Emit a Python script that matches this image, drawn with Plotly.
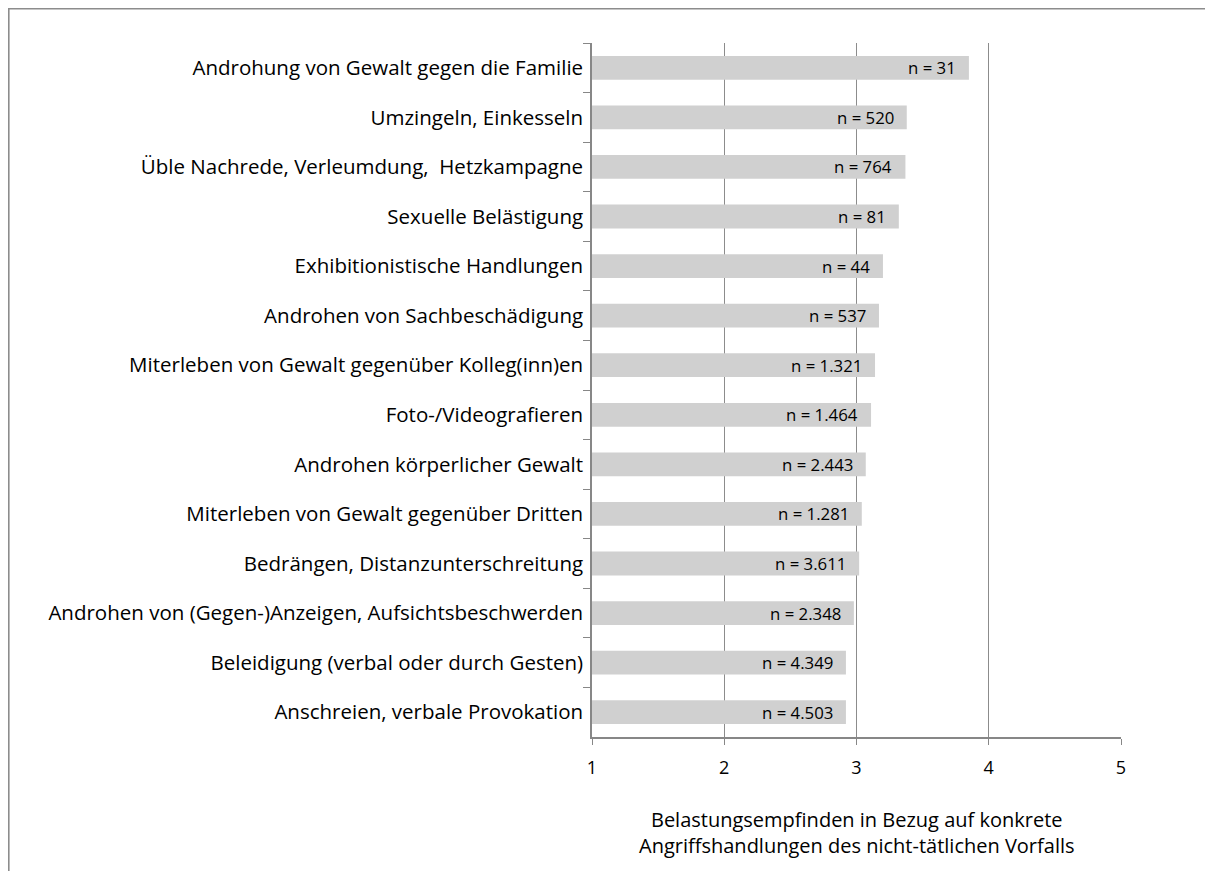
import plotly.graph_objects as go

categories = [
    "Androhung von Gewalt gegen die Familie",
    "Umzingeln, Einkesseln",
    "Üble Nachrede, Verleumdung,  Hetzkampagne",
    "Sexuelle Belästigung",
    "Exhibitionistische Handlungen",
    "Androhen von Sachbeschädigung",
    "Miterleben von Gewalt gegenüber Kolleg(inn)en",
    "Foto-/Videografieren",
    "Androhen körperlicher Gewalt",
    "Miterleben von Gewalt gegenüber Dritten",
    "Bedrängen, Distanzunterschreitung",
    "Androhen von (Gegen-)Anzeigen, Aufsichtsbeschwerden",
    "Beleidigung (verbal oder durch Gesten)",
    "Anschreien, verbale Provokation",
]
values = [3.85, 3.38, 3.37, 3.32, 3.20, 3.17, 3.14, 3.11, 3.07, 3.04, 3.02, 2.98, 2.92, 2.92]
n_labels = ["n = 31", "n = 520", "n = 764", "n = 81", "n = 44", "n = 537", "n = 1.321",
            "n = 1.464", "n = 2.443", "n = 1.281", "n = 3.611", "n = 2.348", "n = 4.349", "n = 4.503"]
x_ticks = [1, 2, 3, 4, 5]
axis_title = "Belastungsempfinden in Bezug auf konkrete<br>Angriffshandlungen des nicht-tätlichen Vorfalls"

FONT = "Open Sans"
base = 1

fig = go.Figure()
fig.add_trace(go.Bar(
    y=categories,
    x=[v - base for v in values],
    base=base,
    orientation="h",
    marker=dict(color="#d0d0d0", line=dict(width=0)),
    hoverinfo="skip",
))

for cat, v, lab in zip(categories, values, n_labels):
    fig.add_annotation(x=v, y=cat, text=lab, showarrow=False, xanchor="right",
                       xshift=-11, font=dict(family=FONT, size=16.8, color="#000000"))

# figure coordinates (page offset of 8px from body margin)
FW, FH = 1205, 863
L, R, T, B = 584, 1113, 35, 729
W, H = R - L, B - T

fig.add_annotation(x=0.5, y=(B - 796) / H, xref="paper", yref="paper", text=axis_title,
                   showarrow=False, xanchor="center", yanchor="top",
                   font=dict(family=FONT, size=20, color="#000000"))

# outer chart border
fig.add_shape(type="rect", xref="paper", yref="paper",
              x0=(0.8 - L) / W, x1=(FW + 20 - L) / W, y0=(B - FH - 20) / H, y1=(B - 0.8) / H,
              line=dict(color="#8c8c8c", width=1.6), fillcolor="rgba(0,0,0,0)", layer="below")

fig.update_layout(
    width=FW, height=FH,
    margin=dict(l=L, r=FW - R, t=T, b=FH - B),
    paper_bgcolor="white", plot_bgcolor="white",
    showlegend=False,
    bargap=0.52,
    font=dict(family=FONT, color="#000000"),
    xaxis=dict(range=[1, 5], tickvals=x_ticks, ticktext=[str(t) for t in x_ticks],
               showgrid=True, gridcolor="#8c8c8c", gridwidth=1.2,
               showline=True, linecolor="#878787", linewidth=1.6,
               ticks="outside", ticklen=6, tickcolor="#878787", tickwidth=1.3,
               ticklabelstandoff=8,
               zeroline=False, tickfont=dict(family=FONT, size=18, color="#000000")),
    yaxis=dict(autorange="reversed", showline=True, linecolor="#878787", linewidth=1.6,
               ticks="outside", tickson="boundaries", ticklen=7, tickcolor="#878787", tickwidth=1.3,
               ticklabelstandoff=3,
               showgrid=False, tickfont=dict(family=FONT, size=20.5, color="#000000")),
)

fig.write_html("out.html")
